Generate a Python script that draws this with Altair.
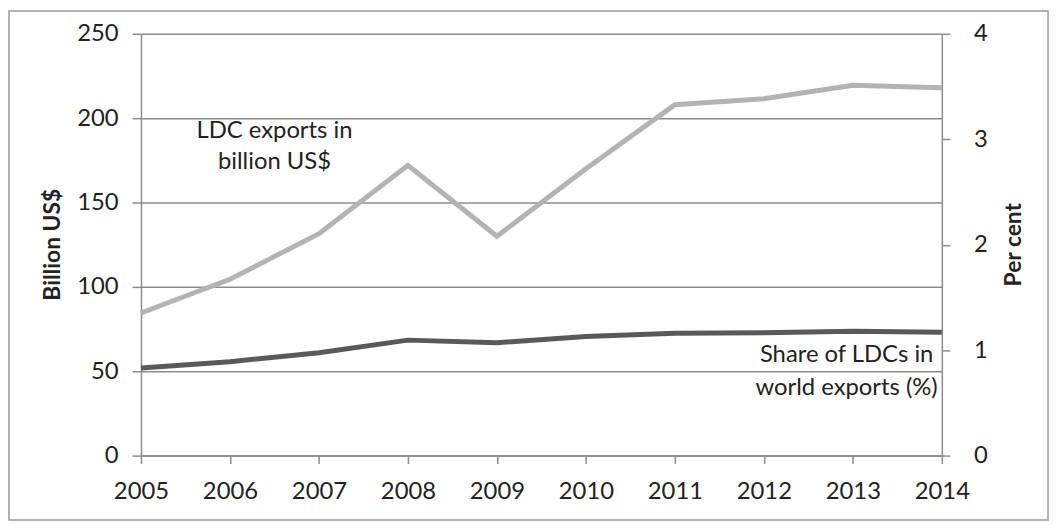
import altair as alt
import pandas as pd

years = [2005, 2006, 2007, 2008, 2009, 2010, 2011, 2012, 2013, 2014]
exports_bn = [84.5, 104.5, 131.5, 172, 130, 170, 208, 211.5, 219.5, 218]
share_pct = [0.83, 0.89, 0.975, 1.095, 1.07, 1.13, 1.16, 1.165, 1.18, 1.17]

FONT = "Lato"
TXT = "#222222"
GRID = "#8c8c8c"
FS = 24

df = pd.DataFrame({"year": years, "exports": exports_bn, "share": share_pct})

xenc = alt.X("year:Q", scale=alt.Scale(domain=[2005, 2014], nice=False, zero=False),
             axis=alt.Axis(values=years, format="d", title=None, tickSize=8,
                           labelPadding=16, labelFontSize=FS, labelColor=TXT, labelFont=FONT,
                           domainColor=GRID, tickColor=GRID, domainWidth=1.5, tickWidth=1.5,
                           grid=False, labelFlush=False))

left = alt.Chart(df).mark_line(color="#b3b3b3", strokeWidth=5).encode(
    x=xenc,
    y=alt.Y("exports:Q", scale=alt.Scale(domain=[0, 250], nice=False),
            axis=alt.Axis(values=[0, 50, 100, 150, 200, 250], title="Billion US$",
                          tickSize=9, labelPadding=14, labelFontSize=FS, labelColor=TXT,
                          labelFont=FONT, grid=True, gridColor=GRID, gridWidth=1.5,
                          domainColor=GRID, tickColor=GRID, domainWidth=1.5, tickWidth=1.5,
                          titleFont=FONT, titleFontSize=23, titleFontWeight="bold",
                          titleColor=TXT, titleAngle=270, titleX=-89, titleY=212,
                          titleAlign="center", titleBaseline="middle")),
)

right = alt.Chart(df).mark_line(color="#595959", strokeWidth=5).encode(
    x=xenc,
    y=alt.Y("share:Q", scale=alt.Scale(domain=[0, 4], nice=False),
            axis=alt.Axis(orient="right", values=[0, 1, 2, 3, 4], format="d", title="Per cent",
                          tickSize=8, labelPadding=24, labelFontSize=FS, labelColor=TXT,
                          labelFont=FONT, grid=False,
                          domainColor=GRID, tickColor=GRID, domainWidth=1.5, tickWidth=1.5,
                          titleFont=FONT, titleFontSize=23, titleFontWeight="bold",
                          titleColor=TXT, titleAngle=270, titleX=72, titleY=212,
                          titleAlign="center", titleBaseline="middle")),
)

ann1 = pd.DataFrame({"year": [2006.5], "val": [192.4], "label": ["LDC exports in\nbillion US$"]})
ann2 = pd.DataFrame({"year": [2012.93], "val": [59.4], "label": ["Share of LDCs in\nworld exports (%)"]})

t1 = alt.Chart(ann1).mark_text(font=FONT, fontSize=FS, color=TXT, lineBreak="\n",
                               lineHeight=31, align="center", baseline="middle").encode(
    x=alt.X("year:Q"), y=alt.Y("val:Q"), text="label:N")
t2 = alt.Chart(ann2).mark_text(font=FONT, fontSize=FS, color=TXT, lineBreak="\n",
                               lineHeight=33, align="center", baseline="middle").encode(
    x=alt.X("year:Q"), y=alt.Y("val:Q"), text="label:N")

border = alt.Chart(pd.DataFrame({"a": [0]})).mark_rect(
    fill=None, stroke="#999999", strokeWidth=1.5, clip=False).encode(
    x=alt.value(-133), x2=alt.value(914), y=alt.value(-23), y2=alt.value(490))

chart = alt.layer(left + t1 + t2 + border, right).resolve_scale(y="independent").properties(
    width=807, height=425,
    autosize=alt.AutoSizeParams(type="none"),
    padding={"left": 134, "top": 24, "right": 112, "bottom": 74},
).configure_view(stroke=None).configure(background="white")

chart.save("out.html", embed_options={"renderer": "svg", "actions": False})
